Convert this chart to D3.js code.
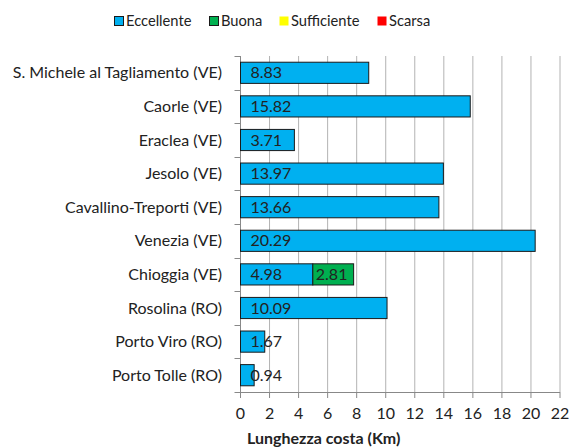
<!DOCTYPE html>
<html><head><meta charset="utf-8">
<script src="https://cdn.jsdelivr.net/npm/d3@7"></script>
<style>body{margin:0;background:#fff}svg{font-family:Lato,"Open Sans",sans-serif}</style>
</head><body><svg id="c" width="571" height="448"></svg>
<script>
const categories = ["S. Michele al Tagliamento (VE)","Caorle (VE)","Eraclea (VE)","Jesolo (VE)","Cavallino-Treporti (VE)","Venezia (VE)","Chioggia (VE)","Rosolina (RO)","Porto Viro (RO)","Porto Tolle (RO)"];
const eccellente = [8.83,15.82,3.71,13.97,13.66,20.29,4.98,10.09,1.67,0.94];
const buona = [0,0,0,0,0,0,2.81,0,0,0];
const sufficiente = [0,0,0,0,0,0,0,0,0,0];
const scarsa = [0,0,0,0,0,0,0,0,0,0];
const seriesNames = ["Eccellente","Buona","Sufficiente","Scarsa"];
const seriesColors = ["#00B0F0","#00B050","#FFFF00","#FF0000"];
const xTicks = [0,2,4,6,8,10,12,14,16,18,20,22];
const xTitle = "Lunghezza costa (Km)";

const FS = 16;
const svg = d3.select("#c");
const m = {l:240.5, r:560, t:56, b:392};
const x = d3.scaleLinear().domain([0,22]).range([m.l,m.r]);
const y = d3.scaleBand().domain(categories).range([m.t,m.b]).paddingInner(0.37).paddingOuter(0.185);
const yb = d3.scaleBand().domain(categories).range([m.t,m.b]);

// gridlines
svg.append("g").selectAll("line").data(xTicks.slice(1)).join("line")
  .attr("x1",d=>x(d)).attr("x2",d=>x(d)).attr("y1",m.t).attr("y2",m.b)
  .attr("stroke","#b3b3b3").attr("stroke-width",1);

// y axis
svg.append("line").attr("x1",m.l).attr("x2",m.l).attr("y1",m.t).attr("y2",m.b).attr("stroke","#888");
const bounds = categories.map(c=>yb(c)).concat([m.b]);
svg.append("g").selectAll("line").data(bounds).join("line")
  .attr("x1",m.l-6).attr("x2",m.l).attr("y1",d=>Math.round(d)+0.5).attr("y2",d=>Math.round(d)+0.5).attr("stroke","#888");
svg.append("g").selectAll("text").data(categories).join("text")
  .attr("x",222).attr("y",d=>yb(d)+yb.bandwidth()/2).attr("dy","0.35em")
  .attr("text-anchor","end").attr("font-size",FS).attr("fill","#222").text(d=>d);

// x axis
svg.append("line").attr("x1",m.l).attr("x2",m.r).attr("y1",m.b+0.5).attr("y2",m.b+0.5).attr("stroke","#888");
svg.append("g").selectAll("line").data(xTicks).join("line")
  .attr("x1",d=>x(d)).attr("x2",d=>x(d)).attr("y1",m.b).attr("y2",m.b+6).attr("stroke","#888");
svg.append("g").selectAll("text").data(xTicks).join("text")
  .attr("x",d=>x(d)).attr("y",419).attr("text-anchor","middle").attr("font-size",FS).attr("fill","#222").text(d=>d);
svg.append("text").attr("x",247).attr("y",444).attr("font-size",FS).attr("font-weight","bold").attr("fill","#222").text(xTitle);

// bars
const series = [eccellente,buona,sufficiente,scarsa];
const g = svg.append("g");
categories.forEach((c,i)=>{
  let acc = 0;
  series.forEach((s,k)=>{
    const v = s[i];
    if(v>0){
      g.append("rect").attr("x",x(acc)).attr("y",y(c)).attr("width",x(acc+v)-x(acc)).attr("height",y.bandwidth())
        .attr("fill",seriesColors[k]).attr("stroke","#1a1a1a").attr("stroke-width",1);
      g.append("text").attr("x",x(acc)+(k===0?10:3)).attr("y",y(c)+y.bandwidth()/2).attr("dy","0.35em")
        .attr("font-size",FS).attr("fill","#222").text(v.toFixed(2));
      acc += v;
    }
  });
});

// legend
const legX = [114,209,279,377];
const lg = svg.append("g");
seriesNames.forEach((n,k)=>{
  lg.append("rect").attr("x",legX[k]+0.5).attr("y",16.5).attr("width",9).attr("height",9)
    .attr("fill",seriesColors[k]).attr("stroke",k<2?"#1a1a1a":"none");
  lg.append("text").attr("x",legX[k]+12).attr("y",21).attr("dy","0.35em").attr("font-size",14.7)
    .attr("textLength",null).attr("fill","#222").text(n);
});
</script></body></html>
